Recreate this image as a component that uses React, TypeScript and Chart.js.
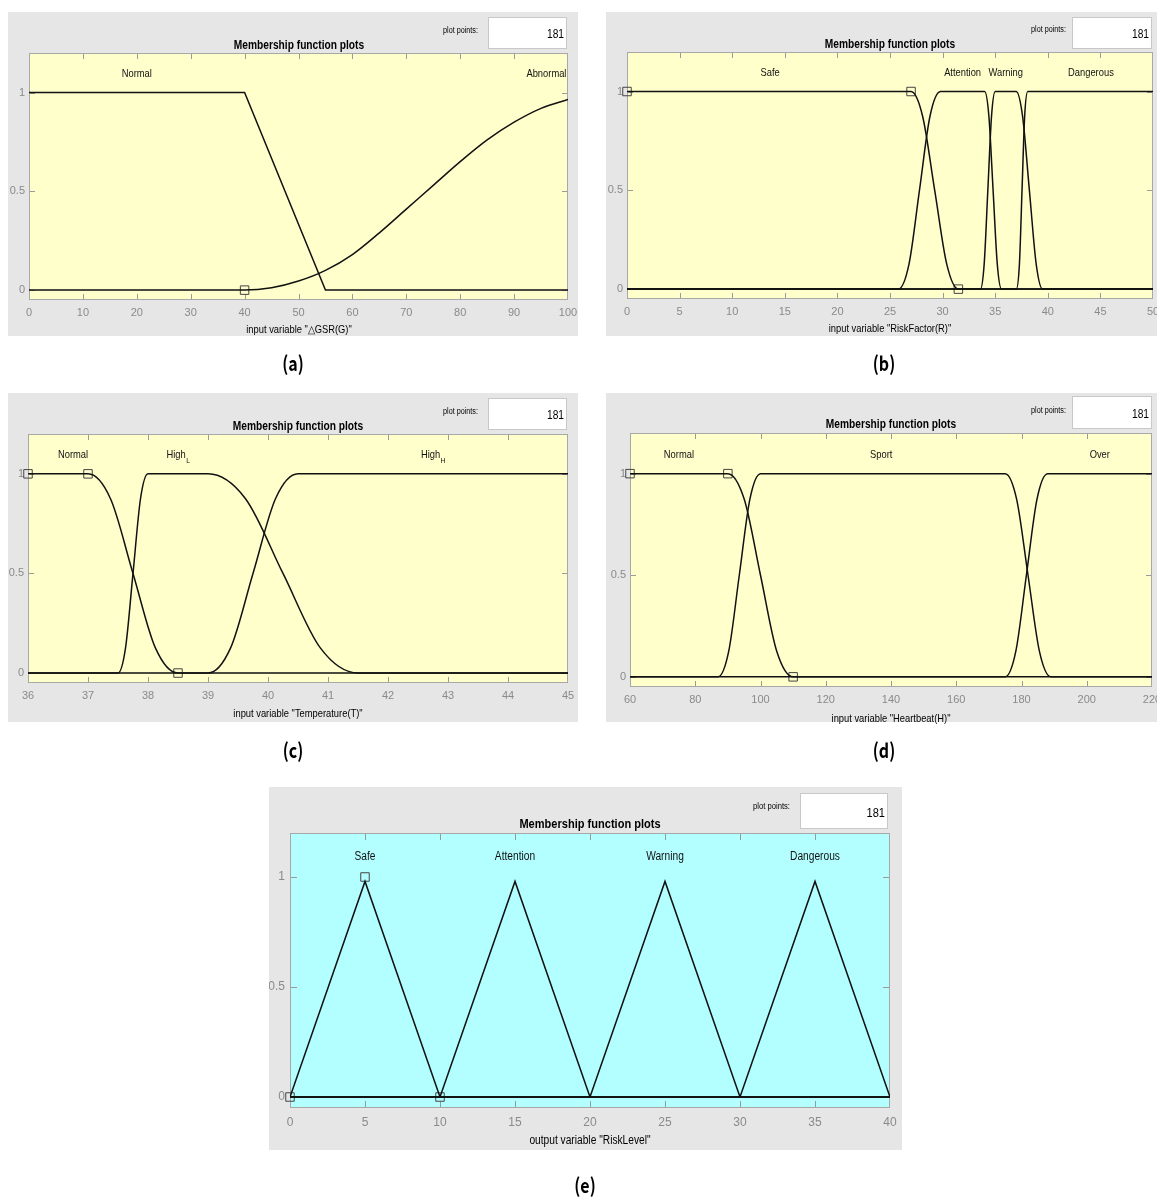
import React, { useEffect, useRef } from "react";
import { Chart, registerables } from "chart.js";

Chart.register(...registerables);

type Pt = [number, number];

// ---------- shared axis values ----------
const Y_TICKS = [0, 0.5, 1];
const Y_MIN = -0.05;
const Y_MAX = 1.2;
const NAME_Y = 1.1;
const PLOT_POINTS = "181";

// ---------- panel (a) : ΔGSR ----------
const A_X_TICKS = [0, 10, 20, 30, 40, 50, 60, 70, 80, 90, 100];
const A_NORMAL: Pt[] = [[0, 1], [40, 1], [55, 0], [100, 0]];
const A_ABNORMAL: Pt[] = [
  [0, 0], [40, 0], [45, 0.012], [50, 0.046], [55, 0.1], [60, 0.18], [65, 0.29],
  [70, 0.41], [75, 0.53], [80, 0.65], [85, 0.76], [90, 0.85], [95, 0.92], [100, 0.965],
];
const A_MARKERS: Pt[] = [[40, 0]];
const A_NAMES = ["Normal", "Abnormal"];
const A_NAME_X = [20, 96];

// ---------- panel (b) : RiskFactor ----------
const B_X_TICKS = [0, 5, 10, 15, 20, 25, 30, 35, 40, 45, 50];
const B_SAFE: Pt[] = [[0, 1], [27, 1], [28.1, 0.875], [29.25, 0.5], [30.4, 0.125], [31.5, 0], [50, 0]];
const B_ATTENTION: Pt[] = [
  [0, 0], [25.8, 0], [26.8, 0.125], [27.8, 0.5], [28.8, 0.875], [29.8, 1],
  [34, 1], [34.4, 0.875], [34.8, 0.5], [35.2, 0.125], [35.6, 0], [50, 0],
];
const B_WARNING: Pt[] = [
  [0, 0], [33.6, 0], [33.95, 0.125], [34.3, 0.5], [34.65, 0.875], [35, 1],
  [37, 1], [37.6, 0.875], [38.25, 0.5], [38.9, 0.125], [39.5, 0], [50, 0],
];
const B_DANGEROUS: Pt[] = [[0, 0], [37, 0], [37.3, 0.125], [37.55, 0.5], [37.8, 0.875], [38.1, 1], [50, 1]];
const B_MARKERS: Pt[] = [[0, 1], [27, 1], [31.5, 0]];
const B_NAMES = ["Safe", "Attention", "Warning", "Dangerous"];
const B_NAME_X = [13.6, 31.9, 36.0, 44.1];

// ---------- panel (c) : Temperature ----------
const C_X_TICKS = [36, 37, 38, 39, 40, 41, 42, 43, 44, 45];
const C_NORMAL: Pt[] = [[36, 1], [37, 1], [37.375, 0.875], [37.75, 0.5], [38.125, 0.125], [38.5, 0], [45, 0]];
const C_HIGH_L: Pt[] = [
  [36, 0], [37.5, 0], [37.625, 0.125], [37.75, 0.5], [37.875, 0.875], [38, 1],
  [39, 1], [39.625, 0.875], [40.25, 0.5], [40.875, 0.125], [41.5, 0], [45, 0],
];
const C_HIGH_H: Pt[] = [[36, 0], [39, 0], [39.375, 0.125], [39.75, 0.5], [40.125, 0.875], [40.5, 1], [45, 1]];
const C_MARKERS: Pt[] = [[36, 1], [37, 1], [38.5, 0]];
const C_NAMES = ["Normal", "High_L", "High_H"];
const C_NAME_X = [36.75, 38.5, 42.75];

// ---------- panel (d) : Heartbeat ----------
const D_X_TICKS = [60, 80, 100, 120, 140, 160, 180, 200, 220];
const D_NORMAL: Pt[] = [[60, 1], [90, 1], [95, 0.875], [100, 0.5], [105, 0.125], [110, 0], [220, 0]];
const D_SPORT: Pt[] = [
  [60, 0], [87, 0], [90.25, 0.125], [93.5, 0.5], [96.75, 0.875], [100, 1],
  [175, 1], [178.5, 0.875], [182, 0.5], [185.5, 0.125], [189, 0], [220, 0],
];
const D_OVER: Pt[] = [[60, 0], [175, 0], [178.25, 0.125], [181.5, 0.5], [184.75, 0.875], [188, 1], [220, 1]];
const D_MARKERS: Pt[] = [[60, 1], [90, 1], [110, 0]];
const D_NAMES = ["Normal", "Sport", "Over"];
const D_NAME_X = [75, 137, 204];

// ---------- panel (e) : RiskLevel ----------
const E_X_TICKS = [0, 5, 10, 15, 20, 25, 30, 35, 40];
const E_SAFE: Pt[] = [[0, 0], [5, 0.98], [10, 0], [40, 0]];
const E_ATTENTION: Pt[] = [[0, 0], [10, 0], [15, 0.98], [20, 0], [40, 0]];
const E_WARNING: Pt[] = [[0, 0], [20, 0], [25, 0.98], [30, 0], [40, 0]];
const E_DANGEROUS: Pt[] = [[0, 0], [30, 0], [35, 0.98], [40, 0]];
const E_MARKERS: Pt[] = [[0, 0], [5, 1], [10, 0]];
const E_NAMES = ["Safe", "Attention", "Warning", "Dangerous"];
const E_NAME_X = [5, 15, 25, 35];

// ---------- styling ----------
const FONT = "'Liberation Sans', Arial, Helvetica, sans-serif";
const CAPTION_FONT = "'Noto Sans CJK JP', 'Noto Sans', sans-serif";
const GRAY = "#e6e6e6";
const YELLOW = "#ffffcc";
const CYAN = "#b3ffff";
const SX = 0.85;

type Rect = { l: number; t: number; r: number; b: number };
type Curve = { pts: Pt[]; smooth: boolean };
type PanelCfg = {
  gray: Rect;
  plot: Rect;
  box: Rect;
  xTicks: number[];
  curves: Curve[];
  markers: Pt[];
  names: string[];
  nameX: number[];
  bg: string;
  xLabel: string;
  caption: string;
  captionX: number;
  captionY: number;
  titleY: number;
  ppRight: number;
  ppY: number;
  axisLabelY: number;
  fs: number;
  titleFs: number;
  tickLen: number;
};

const PANELS: PanelCfg[] = [
  {
    gray: { l: 8, t: 12, r: 578, b: 336 },
    plot: { l: 29, t: 53, r: 568, b: 300 },
    box: { l: 488, t: 17, r: 567, b: 49 },
    xTicks: A_X_TICKS,
    curves: [{ pts: A_NORMAL, smooth: false }, { pts: A_ABNORMAL, smooth: true }],
    markers: A_MARKERS,
    names: A_NAMES,
    nameX: A_NAME_X,
    bg: YELLOW,
    xLabel: 'input variable "\u25B3GSR(G)"',
    caption: "(a)",
    captionX: 293,
    captionY: 363,
    titleY: 45,
    ppRight: 478,
    ppY: 30,
    axisLabelY: 329,
    fs: 11,
    titleFs: 12,
    tickLen: 6,
  },
  {
    gray: { l: 606, t: 12, r: 1157, b: 336 },
    plot: { l: 627, t: 52, r: 1153, b: 299 },
    box: { l: 1072, t: 17, r: 1152, b: 49 },
    xTicks: B_X_TICKS,
    curves: [
      { pts: B_SAFE, smooth: true },
      { pts: B_ATTENTION, smooth: true },
      { pts: B_WARNING, smooth: true },
      { pts: B_DANGEROUS, smooth: true },
    ],
    markers: B_MARKERS,
    names: B_NAMES,
    nameX: B_NAME_X,
    bg: YELLOW,
    xLabel: 'input variable "RiskFactor(R)"',
    caption: "(b)",
    captionX: 884,
    captionY: 363,
    titleY: 44,
    ppRight: 1066,
    ppY: 29,
    axisLabelY: 328,
    fs: 11,
    titleFs: 12,
    tickLen: 6,
  },
  {
    gray: { l: 8, t: 393, r: 578, b: 722 },
    plot: { l: 28, t: 434, r: 568, b: 683 },
    box: { l: 488, t: 398, r: 567, b: 430 },
    xTicks: C_X_TICKS,
    curves: [
      { pts: C_NORMAL, smooth: true },
      { pts: C_HIGH_L, smooth: true },
      { pts: C_HIGH_H, smooth: true },
    ],
    markers: C_MARKERS,
    names: C_NAMES,
    nameX: C_NAME_X,
    bg: YELLOW,
    xLabel: 'input variable "Temperature(T)"',
    caption: "(c)",
    captionX: 293,
    captionY: 750,
    titleY: 426,
    ppRight: 478,
    ppY: 411,
    axisLabelY: 713,
    fs: 11,
    titleFs: 12,
    tickLen: 6,
  },
  {
    gray: { l: 606, t: 393, r: 1157, b: 722 },
    plot: { l: 630, t: 433, r: 1152, b: 687 },
    box: { l: 1072, t: 396, r: 1152, b: 429 },
    xTicks: D_X_TICKS,
    curves: [
      { pts: D_NORMAL, smooth: true },
      { pts: D_SPORT, smooth: true },
      { pts: D_OVER, smooth: true },
    ],
    markers: D_MARKERS,
    names: D_NAMES,
    nameX: D_NAME_X,
    bg: YELLOW,
    xLabel: 'input variable "Heartbeat(H)"',
    caption: "(d)",
    captionX: 884,
    captionY: 750,
    titleY: 424,
    ppRight: 1066,
    ppY: 410,
    axisLabelY: 718,
    fs: 11,
    titleFs: 12,
    tickLen: 6,
  },
  {
    gray: { l: 269, t: 787, r: 902, b: 1150 },
    plot: { l: 290, t: 833, r: 890, b: 1108 },
    box: { l: 800, t: 793, r: 888, b: 829 },
    xTicks: E_X_TICKS,
    curves: [
      { pts: E_SAFE, smooth: false },
      { pts: E_ATTENTION, smooth: false },
      { pts: E_WARNING, smooth: false },
      { pts: E_DANGEROUS, smooth: false },
    ],
    markers: E_MARKERS,
    names: E_NAMES,
    nameX: E_NAME_X,
    bg: CYAN,
    xLabel: 'output variable "RiskLevel"',
    caption: "(e)",
    captionX: 585,
    captionY: 1185,
    titleY: 823,
    ppRight: 790,
    ppY: 806,
    axisLabelY: 1140,
    fs: 12,
    titleFs: 13,
    tickLen: 7,
  },
];

function Txt(props: {
  x: number;
  y: number;
  size: number;
  bold?: boolean;
  anchor?: "center" | "right" | "left";
  family?: string;
  sx?: number;
  color?: string;
  children: React.ReactNode;
}) {
  const anchor = props.anchor || "center";
  const tx = anchor === "center" ? "-50%" : anchor === "right" ? "-100%" : "0";
  const origin = anchor === "center" ? "center center" : anchor === "right" ? "right center" : "left center";
  return (
    <div
      style={{
        position: "absolute",
        left: props.x,
        top: props.y,
        transform: `translate(${tx}, -50%)`,
        whiteSpace: "nowrap",
        fontFamily: props.family || FONT,
        fontSize: props.size,
        fontWeight: props.bold ? "bold" : "normal",
        lineHeight: 1,
        color: props.color || "#000",
      }}
    >
      <span style={{ display: "inline-block", transform: `scaleX(${props.sx ?? SX})`, transformOrigin: origin }}>
        {props.children}
      </span>
    </div>
  );
}

function zeroPadding(s: any) {
  s.paddingLeft = 0;
  s.paddingRight = 0;
  s.paddingTop = 0;
  s.paddingBottom = 0;
}

function Panel({ cfg }: { cfg: PanelCfg }) {
  const ref = useRef<HTMLCanvasElement>(null);
  const W = cfg.gray.r - cfg.gray.l;
  const H = cfg.gray.b - cfg.gray.t;

  useEffect(() => {
    if (!ref.current) return;
    const frame = {
      id: "frame",
      beforeDraw(chart: any) {
        const { ctx, chartArea: a } = chart;
        ctx.save();
        ctx.fillStyle = cfg.bg;
        ctx.fillRect(a.left, a.top, a.right - a.left, a.bottom - a.top);
        ctx.restore();
      },
      beforeDatasetsDraw(chart: any) {
        const { ctx, chartArea: a } = chart;
        const xs = chart.scales.x;
        const ys = chart.scales.y;
        ctx.save();
        ctx.strokeStyle = "#9a9a9a";
        ctx.lineWidth = 1;
        ctx.beginPath();
        xs.ticks.forEach((t: any) => {
          const px = Math.round(xs.getPixelForValue(t.value)) + 0.5;
          if (px <= a.left + 1 || px >= a.right - 1) return;
          ctx.moveTo(px, a.bottom);
          ctx.lineTo(px, a.bottom - cfg.tickLen);
          ctx.moveTo(px, a.top);
          ctx.lineTo(px, a.top + cfg.tickLen);
        });
        ys.ticks.forEach((t: any) => {
          const py = Math.round(ys.getPixelForValue(t.value)) + 0.5;
          ctx.moveTo(a.left, py);
          ctx.lineTo(a.left + cfg.tickLen, py);
          ctx.moveTo(a.right, py);
          ctx.lineTo(a.right - cfg.tickLen, py);
        });
        ctx.stroke();
        ctx.strokeStyle = "#a8a8a8";
        ctx.strokeRect(a.left + 0.5, a.top + 0.5, a.right - a.left - 1, a.bottom - a.top - 1);
        ctx.restore();
      },
      afterDatasetsDraw(chart: any) {
        const { ctx } = chart;
        const xs = chart.scales.x;
        const ys = chart.scales.y;
        ctx.save();
        ctx.fillStyle = "#111";
        ctx.textBaseline = "middle";
        cfg.names.forEach((name, i) => {
          const px = xs.getPixelForValue(cfg.nameX[i]);
          const py = ys.getPixelForValue(NAME_Y) + 1.5;
          const parts = name.split("_");
          const main = parts[0];
          const sub = parts[1] || "";
          ctx.font = `${cfg.fs}px ${FONT}`;
          const wMain = ctx.measureText(main).width;
          ctx.font = `${cfg.fs - 3}px ${FONT}`;
          const wSub = sub ? ctx.measureText(sub).width : 0;
          const total = (wMain + wSub) * SX;
          ctx.save();
          ctx.translate(px - total / 2, py);
          ctx.scale(SX, 1);
          ctx.textAlign = "left";
          ctx.font = `${cfg.fs}px ${FONT}`;
          ctx.fillText(main, 0, 0);
          if (sub) {
            ctx.font = `${cfg.fs - 3}px ${FONT}`;
            ctx.fillText(sub, wMain + 0.5, 5);
          }
          ctx.restore();
        });
        ctx.restore();
      },
    };

    const datasets: any[] = cfg.curves.map((c) => ({
      data: c.pts.map(([x, y]) => ({ x, y })),
      borderColor: "#111",
      borderWidth: 1.5,
      pointRadius: 0,
      fill: false,
      tension: 0,
      cubicInterpolationMode: c.smooth ? "monotone" : "default",
    }));
    datasets.push({
      data: cfg.markers.map(([x, y]) => ({ x, y })),
      showLine: false,
      pointStyle: "rect",
      pointRadius: 6,
      pointBorderColor: "#444",
      pointBackgroundColor: "rgba(0,0,0,0)",
      pointBorderWidth: 1,
      clip: false,
    });

    const xMin = cfg.xTicks[0];
    const xMax = cfg.xTicks[cfg.xTicks.length - 1];

    const chart = new Chart(ref.current, {
      type: "line",
      data: { datasets },
      options: {
        responsive: false,
        maintainAspectRatio: false,
        animation: false,
        events: [],
        layout: {
          autoPadding: false,
          padding: {
            left: 0,
            top: cfg.plot.t - cfg.gray.t,
            right: cfg.gray.r - cfg.plot.r,
            bottom: 0,
          },
        },
        plugins: {
          legend: { display: false },
          tooltip: { enabled: false },
          title: { display: false },
        },
        scales: {
          x: {
            type: "linear",
            position: "bottom",
            min: xMin,
            max: xMax,
            grid: { display: false, drawTicks: false },
            border: { display: false },
            ticks: {
              color: "#8a8a8a",
              font: { family: FONT, size: cfg.fs },
              padding: cfg.fs === 12 ? 7 : 6,
              autoSkip: false,
              maxRotation: 0,
              minRotation: 0,
              callback: (v: any) => String(v),
            },
            afterBuildTicks: (s: any) => {
              s.ticks = cfg.xTicks.map((v) => ({ value: v }));
            },
            afterFit: (s: any) => {
              s.height = cfg.gray.b - cfg.plot.b;
              zeroPadding(s);
            },
          },
          y: {
            type: "linear",
            position: "left",
            min: Y_MIN,
            max: Y_MAX,
            grid: { display: false, drawTicks: false },
            border: { display: false },
            ticks: {
              color: "#8a8a8a",
              font: { family: FONT, size: cfg.fs },
              padding: cfg.fs === 12 ? 5 : 4,
              callback: (v: any) => String(v),
            },
            afterBuildTicks: (s: any) => {
              s.ticks = Y_TICKS.map((v) => ({ value: v }));
            },
            afterFit: (s: any) => {
              s.width = cfg.plot.l - cfg.gray.l;
              zeroPadding(s);
            },
          },
        },
      } as any,
      plugins: [frame],
    });
    return () => chart.destroy();
  }, [cfg]);

  const cx = (cfg.plot.l + cfg.plot.r) / 2;
  return (
    <>
      <div
        style={{
          position: "absolute",
          left: cfg.gray.l,
          top: cfg.gray.t,
          width: W,
          height: H,
          background: GRAY,
        }}
      />
      <canvas
        ref={ref}
        width={W}
        height={H}
        style={{ position: "absolute", left: cfg.gray.l, top: cfg.gray.t, width: W, height: H }}
      />
      <Txt x={cx} y={cfg.titleY} size={cfg.titleFs} bold>
        Membership function plots
      </Txt>
      <Txt x={cfg.ppRight} y={cfg.ppY} size={cfg.fs === 12 ? 9 : 8.5} anchor="right">
        plot points:
      </Txt>
      <div
        style={{
          position: "absolute",
          left: cfg.box.l,
          top: cfg.box.t,
          width: cfg.box.r - cfg.box.l,
          height: cfg.box.b - cfg.box.t,
          background: "#fff",
          boxSizing: "border-box",
          border: "1px solid #c8c8c8",
        }}
      />
      <Txt x={cfg.box.r - 3} y={(cfg.box.t + cfg.box.b) / 2 + 1} size={cfg.titleFs} anchor="right">
        {PLOT_POINTS}
      </Txt>
      <Txt x={cx} y={cfg.axisLabelY} size={cfg.fs}>
        {cfg.xLabel}
      </Txt>
      <Txt x={cfg.captionX} y={cfg.captionY} size={20} bold family={CAPTION_FONT} sx={0.8}>
        {cfg.caption}
      </Txt>
    </>
  );
}

export default function App() {
  return (
    <div
      style={{
        position: "absolute",
        left: 0,
        top: 0,
        width: 1157,
        height: 1198,
        background: "#fff",
        overflow: "hidden",
      }}
    >
      {PANELS.map((p, i) => (
        <Panel key={i} cfg={p} />
      ))}
    </div>
  );
}
